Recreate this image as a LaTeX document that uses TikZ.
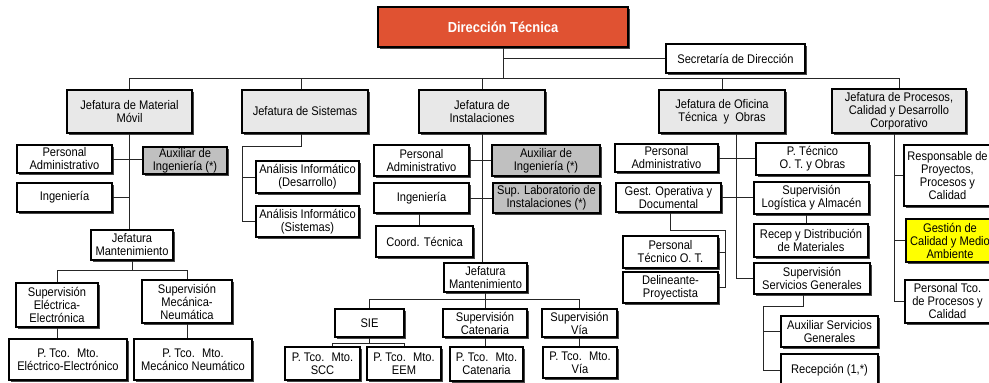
\documentclass[tikz,border=0pt]{standalone}
\usepackage{fontspec}
\setmainfont{Liberation Sans}[FakeStretch=0.89]
\usetikzlibrary{shadows,calc}
\definecolor{dtred}{RGB}{224,82,50}
\definecolor{headgray}{RGB}{232,232,232}
\definecolor{auxgray}{RGB}{192,192,192}
\definecolor{calyellow}{RGB}{255,255,0}
\newcommand\orgbox[7]{\node[#6, minimum width={#4-#2}, minimum height={#5-#3}] (#1) at ({(#2+#4)/2},{(#3+#5)/2}) {#7};}
\tikzset{
  box/.style={draw=black, line width=1.2pt, fill=white, inner sep=0pt, align=center,
    font=\fontsize{12.5}{13}\selectfont,
    drop shadow={shadow xshift=1.6pt, shadow yshift=-1.6pt, fill=black!85, opacity=0.85}},
  headbox/.style={box, fill=headgray},
  auxbox/.style={box, fill=auxgray},
  yelbox/.style={box, fill=calyellow},
  topbox/.style={box, fill=dtred, text=white, font=\fontsize{14.5}{15}\selectfont\bfseries},
  conn/.style={draw=black!85, line width=0.9pt}
}
\begin{document}
\begin{tikzpicture}[x=1pt, y=-1pt]
\useasboundingbox (0,0) rectangle (989,383);
\clip (0,0) rectangle (989,383);
% top
\orgbox{dt}{378}{7}{628}{47}{topbox}{Dirección Técnica}
\orgbox{sec}{666}{44}{805}{73}{box}{Secretaría de Dirección}
% jefaturas
\orgbox{jmm}{67}{90}{192}{133}{headbox}{Jefatura de Material\\Móvil}
\orgbox{jsis}{242}{90}{368}{133}{headbox}{Jefatura de Sistemas}
\orgbox{jins}{419}{90}{545}{133}{headbox}{Jefatura de\\Instalaciones}
\orgbox{jof}{659}{90}{785}{133}{headbox}{Jefatura de Oficina\\Técnica \ y \ Obras}
\orgbox{jpro}{832}{89}{966}{133}{headbox}{Jefatura de Procesos,\\Calidad y Desarrollo\\Corporativo}
% material movil
\orgbox{mmpa}{17}{145}{112}{173}{box}{Personal\\Administrativo}
\orgbox{mmaux}{143}{147}{227}{174}{auxbox}{Auxiliar de\\Ingeniería (*)}
\orgbox{mming}{17}{183}{112}{212}{box}{Ingeniería}
\orgbox{mmjm}{91}{230}{173}{260}{box}{Jefatura\\Mantenimiento}
\orgbox{mmsee}{16}{283}{98}{327}{box}{Supervisión\\Eléctrica-\\Electrónica}
\orgbox{mmsmn}{142}{280}{232}{323}{box}{Supervisión\\Mecánica-\\Neumática}
\orgbox{mmpee}{9}{339}{127}{380}{box}{P. Tco. \ Mto.\\Eléctrico-Electrónico}
\orgbox{mmpmn}{134}{339}{252}{380}{box}{P. Tco. \ Mto.\\Mecánico Neumático}
% sistemas
\orgbox{sdes}{256}{161}{359}{193}{box}{Análisis Informático\\(Desarrollo)}
\orgbox{ssis}{256}{206}{359}{237}{box}{Análisis Informático\\(Sistemas)}
% instalaciones
\orgbox{ipa}{374}{145}{469}{176}{box}{Personal\\Administrativo}
\orgbox{iaux}{492}{145}{600}{176}{auxbox}{Auxiliar de\\Ingeniería (*)}
\orgbox{iing}{374}{183}{469}{213}{box}{Ingeniería}
\orgbox{ilab}{493}{183}{600}{213}{auxbox}{Sup. Laboratorio de\\Instalaciones (*)}
\orgbox{icoord}{376}{226}{473}{257}{box}{Coord. Técnica}
\orgbox{ijm}{444}{263}{527}{292}{box}{Jefatura\\Mantenimiento}
\orgbox{isie}{335}{309}{404}{337}{box}{SIE}
\orgbox{icat}{443}{309}{527}{337}{box}{Supervisión\\Catenaria}
\orgbox{ivia}{542}{309}{617}{337}{box}{Supervisión\\Vía}
\orgbox{iscc}{285}{347}{360}{380}{box}{P. Tco. \ Mto.\\SCC}
\orgbox{ieem}{367}{347}{441}{380}{box}{P. Tco. \ Mto.\\EEM}
\orgbox{ipcat}{450}{347}{523}{381}{box}{P. Tco. \ Mto.\\Catenaria}
\orgbox{ipvia}{543}{347}{617}{378}{box}{P. Tco. \ Mto.\\Vía}
% oficina tecnica
\orgbox{opa}{615}{144}{718}{172}{box}{Personal\\Administrativo}
\orgbox{opt}{756}{143}{869}{175}{box}{P. Técnico\\O. T. y Obras}
\orgbox{ogest}{616}{183}{721}{212}{box}{Gest. Operativa y\\Documental}
\orgbox{olog}{754}{182}{869}{214}{box}{Supervisión\\Logística y Almacén}
\orgbox{orec}{754}{224}{868}{257}{box}{Recep y Distribución\\de Materiales}
\orgbox{osg}{754}{263}{870}{294}{box}{Supervisión\\Servicios Generales}
\orgbox{opto}{623}{236}{718}{268}{box}{Personal\\Técnico O. T.}
\orgbox{odel}{623}{272}{718}{303}{box}{Delineante-\\Proyectista}
\orgbox{oaux}{781}{316}{878}{347}{box}{Auxiliar Servicios\\Generales}
\orgbox{orecp}{781}{354}{878}{386}{box}{Recepción (1,*)}
% procesos
\orgbox{presp}{904}{145}{991}{206}{box}{Responsable de\\Proyectos,\\Procesos y\\Calidad}
\orgbox{pges}{906}{219}{994}{262}{yelbox}{Gestión de\\Calidad y Medio\\Ambiente}
\orgbox{ppers}{905}{280}{990}{323}{box}{Personal Tco.\\de Procesos y\\Calidad}
% ---------------- connectors
\coordinate (busY) at (0,78);
\draw[conn] (dt.south) -- (dt.south |- busY);
\draw[conn] (dt.south |- sec.west) -- (sec.west);
\draw[conn] (jmm.north) -- (jmm.north |- busY) -- (jpro.north |- busY) -- (jpro.north);
\draw[conn] ([xshift=-4pt]jsis.north) -- ([xshift=-4pt]jsis.north |- busY);
\draw[conn] (jins.north) -- (jins.north |- busY);
\draw[conn] (jof.north) -- (jof.north |- busY);
% material movil
\draw[conn] (jmm.south) -- (jmm.south |- mmjm.north);
\draw[conn] (mmpa.east) -- (mmpa.east -| mmaux.west);
\draw[conn] (mming.east) -- (mming.east -| jmm.south);
\coordinate (mmbus) at (0,270);
\draw[conn] (mmjm.south) -- (mmjm.south |- mmbus);
\draw[conn] (mmsee.north) -- (mmsee.north |- mmbus) -- (mmsmn.north |- mmbus) -- (mmsmn.north);
\draw[conn] (mmsee.south) -- (mmsee.south |- mmpee.north);
\draw[conn] (mmsmn.south) -- (mmsmn.south |- mmpmn.north);
% sistemas
\coordinate (sisv) at (242,146);
\draw[conn] ([xshift=-4pt]jsis.south) -- ([xshift=-4pt]jsis.south |- sisv) -- (sisv) -- (sisv |- ssis.west) -- (ssis.west);
\draw[conn] (sisv |- sdes.west) -- (sdes.west);
% instalaciones
\draw[conn] (jins.south) -- (jins.south |- ijm.north);
\draw[conn] (ipa.east) -- (ipa.east -| iaux.west);
\draw[conn] (iing.east) -- (iing.east -| ilab.west);
\draw[conn] ([xshift=-2pt]iing.south) -- ([xshift=-2pt]iing.south |- icoord.north);
\coordinate (ibus) at (0,299);
\draw[conn] (ijm.south) -- (ijm.south |- icat.north);
\draw[conn] (isie.north) -- (isie.north |- ibus) -- (ivia.north |- ibus) -- (ivia.north);
\coordinate (siebus) at (0,343);
\coordinate (sccdrop) at (332,343);
\draw[conn] (isie.south) -- (isie.south |- siebus);
\draw[conn] (sccdrop |- iscc.north) -- (sccdrop) -- (ieem.north |- siebus) -- (ieem.north);
\draw[conn] (icat.south) -- (icat.south |- ipcat.north);
\draw[conn] (ivia.south) -- (ivia.south |- ipvia.north);
% oficina tecnica
\coordinate (ofv) at ([xshift=14pt]jof.south);
\draw[conn] (ofv) -- (ofv |- osg.west) -- (osg.west);
\draw[conn] (opa.east) -- (opa.east -| opt.west);
\draw[conn] (ogest.east) -- (ogest.east -| olog.west);
\draw[conn] ([xshift=-5pt]olog.south) -- ([xshift=-5pt]olog.south |- orec.north);
\coordinate (gv) at (725,230);
\draw[conn] ([xshift=2pt]ogest.south) -- ([xshift=2pt]ogest.south |- gv) -- (gv) -- (gv |- odel.east) -- (odel.east);
\draw[conn] (gv |- opto.east) -- (opto.east);
\coordinate (sgv) at (763,306);
\draw[conn] ([xshift=-9pt]osg.south) -- ([xshift=-9pt]osg.south |- sgv) -- (sgv) -- (sgv |- orecp.west) -- (orecp.west);
\draw[conn] (sgv |- oaux.west) -- (oaux.west);
% procesos
\draw[conn] ([xshift=-5pt]jpro.south) -- ([xshift=-5pt]jpro.south |- ppers.west) -- (ppers.west);
\draw[conn] ([xshift=-5pt]jpro.south |- presp.west) -- (presp.west);
\draw[conn] ([xshift=-5pt]jpro.south |- pges.west) -- (pges.west);
\end{tikzpicture}
\end{document}
